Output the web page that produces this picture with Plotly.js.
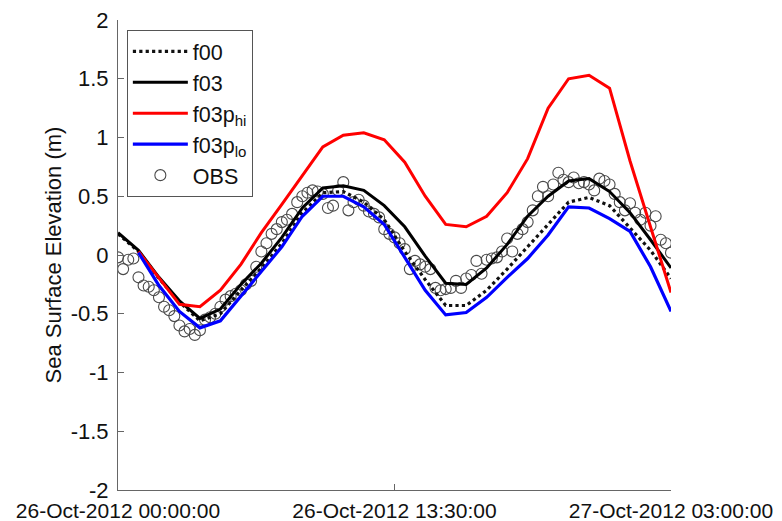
<!DOCTYPE html>
<html>
<head>
<meta charset="utf-8">
<script src="https://cdn.plot.ly/plotly-3.0.1.min.js"></script>
<style>html,body{margin:0;padding:0;background:#fff;}#chart{width:782px;height:521px;}</style>
</head>
<body>
<div id="chart"></div>
<script>
// Model output times (hours after 26-Oct-2012 00:00)
const hoursAll = [0,1,2,3,4,5,6,7,8,9,10,11,12,13,14,15,16,17,18,19,20,21,22,23,24,25,26,27];
const hoursP   = [1,2,3,4,5,6,7,8,9,10,11,12,13,14,15,16,17,18,19,20,21,22,23,24,25,26,27];

const f00 = [0.18,0.03,-0.20,-0.40,-0.56,-0.50,-0.30,-0.11,0.10,0.36,0.53,0.54,0.45,0.30,0.03,-0.21,-0.43,-0.43,-0.30,-0.12,0.07,0.26,0.45,0.49,0.42,0.23,0.04,-0.20];
const f03 = [0.19,0.04,-0.19,-0.39,-0.54,-0.46,-0.25,-0.07,0.15,0.40,0.57,0.59,0.55,0.42,0.24,-0.01,-0.24,-0.25,-0.11,0.09,0.33,0.50,0.63,0.65,0.54,0.36,0.13,-0.11];
const f03phi = [0.03,-0.20,-0.42,-0.44,-0.30,-0.08,0.19,0.43,0.68,0.92,1.02,1.04,0.98,0.79,0.50,0.26,0.24,0.33,0.53,0.82,1.25,1.50,1.53,1.42,0.80,0.23,-0.32];
const f03plo = [0.02,-0.26,-0.48,-0.62,-0.56,-0.35,-0.14,0.07,0.33,0.50,0.50,0.41,0.26,-0.02,-0.30,-0.51,-0.49,-0.36,-0.19,-0.03,0.17,0.41,0.40,0.31,0.20,-0.10,-0.48];

// Observations every 15 minutes
const obsHours = [0,0.25,0.5,0.75,1,1.25,1.5,1.75,2,2.25,2.5,2.75,3,3.25,3.5,3.75,4,4.25,4.5,4.75,5,5.25,5.5,5.75,6,6.25,6.5,6.75,7,7.25,7.5,7.75,8,8.25,8.5,8.75,9,9.25,9.5,9.75,10,10.25,10.5,10.75,11,11.25,11.5,11.75,12,12.25,12.5,12.75,13,13.25,13.5,13.75,14,14.25,14.5,14.75,15,15.25,15.5,15.75,16,16.25,16.5,16.75,17,17.25,17.5,17.75,18,18.25,18.5,18.75,19,19.25,19.5,19.75,20,20.25,20.5,20.75,21,21.25,21.5,21.75,22,22.25,22.5,22.75,23,23.25,23.5,23.75,24,24.25,24.5,24.75,25,25.25,25.5,25.75,26,26.25,26.5,26.75,27];
const obs = [-0.02,-0.12,-0.04,-0.03,-0.19,-0.26,-0.27,-0.30,-0.36,-0.44,-0.47,-0.52,-0.60,-0.65,-0.63,-0.68,-0.64,-0.55,-0.53,-0.50,-0.44,-0.38,-0.35,-0.33,-0.30,-0.25,-0.22,-0.10,0.03,0.10,0.18,0.22,0.28,0.30,0.35,0.45,0.50,0.53,0.55,0.54,0.52,0.40,0.42,0.55,0.62,0.38,0.45,0.47,0.42,0.37,0.35,0.32,0.22,0.18,0.15,0.10,0.05,-0.12,-0.05,-0.08,-0.10,-0.12,-0.28,-0.30,-0.29,-0.28,-0.22,-0.28,-0.20,-0.17,-0.05,-0.16,-0.04,-0.03,-0.02,0.03,0.14,0.03,0.18,0.22,0.28,0.38,0.50,0.58,0.50,0.60,0.70,0.64,0.62,0.66,0.61,0.62,0.60,0.55,0.65,0.63,0.60,0.52,0.45,0.38,0.44,0.36,0.30,0.36,0.25,0.33,0.13,0.10,0.02];

const xTickVals = [0, 13.5, 27];
const xTickText = ['26-Oct-2012 00:00:00', '26-Oct-2012 13:30:00', '27-Oct-2012 03:00:00'];
const yTickVals = [-2,-1.5,-1,-0.5,0,0.5,1,1.5,2];
const yTickText = ['-2','-1.5','-1','-0.5','0','0.5','1','1.5','2'];

const traces = [
  {x: obsHours, y: obs, name: 'OBS', mode: 'markers', legendrank: 5,
   marker: {symbol: 'circle-open', size: 11, color: '#4a4a4a', line: {width: 1.1, color: '#4a4a4a'}}},
  {x: hoursAll, y: f00, name: 'f00', mode: 'lines', legendrank: 1,
   line: {color: '#111', width: 3.2, dash: 'dot'}},
  {x: hoursAll, y: f03, name: 'f03', mode: 'lines', legendrank: 2,
   line: {color: '#000', width: 3}},
  {x: hoursP, y: f03phi, name: 'f03p<sub>hi</sub>', mode: 'lines', legendrank: 3,
   line: {color: '#ff0000', width: 3}},
  {x: hoursP, y: f03plo, name: 'f03p<sub>lo</sub>', mode: 'lines', legendrank: 4,
   line: {color: '#0000ff', width: 3.2}}
];

const layout = {
  width: 782, height: 521,
  margin: {l: 118, r: 111, t: 20, b: 31},
  paper_bgcolor: '#fff', plot_bgcolor: '#fff',
  font: {family: 'Liberation Sans, Arial, sans-serif', size: 21, color: '#111'},
  showlegend: true,
  legend: {
    x: 0.016, y: 0.979, xanchor: 'left', yanchor: 'top',
    bgcolor: '#fff', bordercolor: '#555', borderwidth: 1,
    font: {size: 21.5, color: '#111'}, itemwidth: 55, tracegroupgap: 0
  },
  xaxis: {
    range: [0, 27], tickmode: 'array', tickvals: xTickVals, ticktext: xTickText,
    ticks: 'inside', ticklen: 6, tickcolor: '#666', showgrid: false, zeroline: false,
    showline: true, linecolor: '#666', linewidth: 1, mirror: false, ticklabelstandoff: 2,
    tickfont: {size: 21, color: '#111'}, automargin: false
  },
  yaxis: {
    range: [-2, 2], tickmode: 'array', tickvals: yTickVals, ticktext: yTickText,
    ticks: 'inside', ticklen: 6, tickcolor: '#666', showgrid: false, zeroline: false,
    showline: true, linecolor: '#666', linewidth: 1, ticklabelstandoff: 4,
    tickfont: {size: 22, color: '#111'}, automargin: false,
    title: {text: 'Sea Surface Elevation (m)', font: {size: 22, color: '#111'}, standoff: 2}
  }
};

Plotly.newPlot('chart', traces, layout, {displayModeBar: false, staticPlot: true});
</script>
</body>
</html>
